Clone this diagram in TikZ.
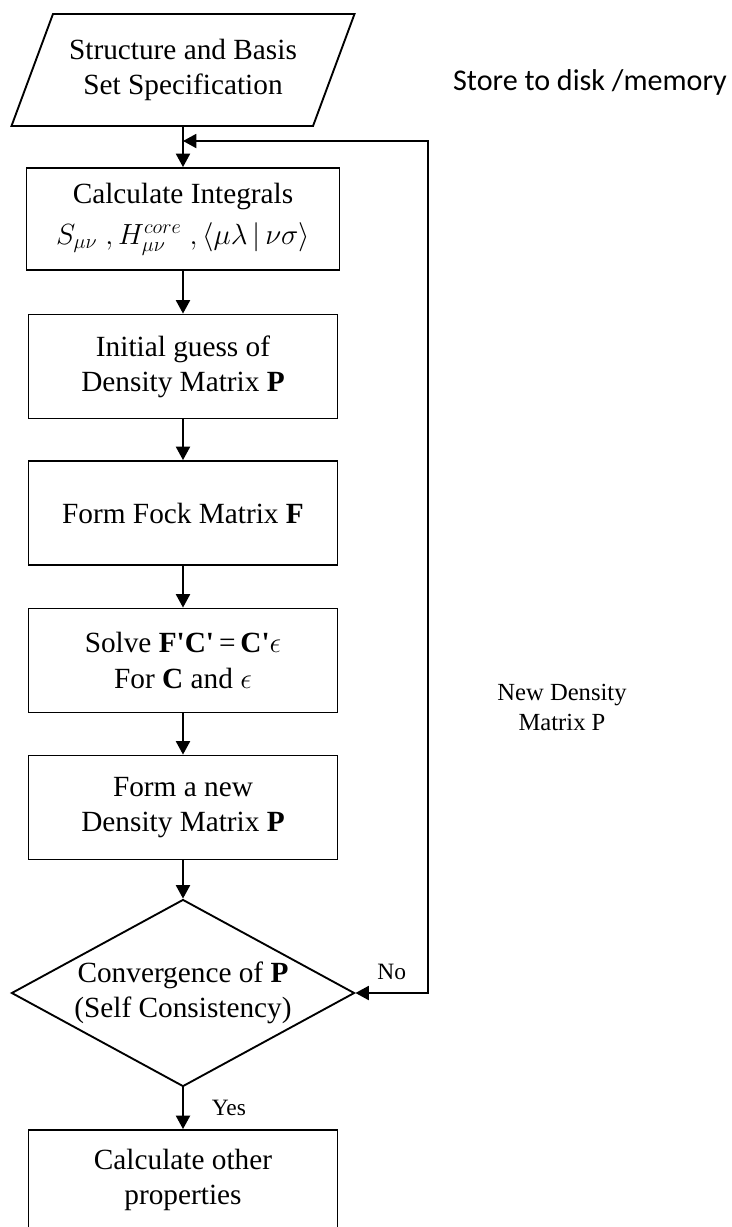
\documentclass[tikz,border=0pt]{standalone}
\usepackage{fontspec}
\setmainfont{Liberation Serif}
\newfontfamily\notefont{Carlito}
\usetikzlibrary{arrows.meta,shapes.geometric}

\begin{document}
\begin{tikzpicture}[
 x=0.03cm,y=-0.03cm,font=\fontsize{25}{30}\selectfont,
 box/.style={draw,line width=1.6pt,align=center,minimum width=9.27cm,
             minimum height=3.12cm,inner sep=2pt},
 io/.style={box,trapezium,trapezium left angle=58,trapezium right angle=122,
            trapezium stretches body,minimum width=10.29cm,minimum height=3.36cm},
 test/.style={box,diamond,aspect=1.83,minimum width=10.29cm,
              minimum height=5.61cm,inner sep=0pt},
 flow/.style={-{Triangle[length=0.4cm,width=0.42cm]},line width=1.6pt},
 back/.style={{Triangle[length=0.4cm,width=0.42cm]}-{Triangle[length=0.4cm,width=0.42cm]},
              line width=1.6pt},
 note/.style={align=center,inner sep=1pt}]
\useasboundingbox (0,0) rectangle (732,1227);
\clip (0,0) rectangle (732,1227);
\node[io] (spec) at (183,70) {Structure and Basis\\Set Specification};
\node[box,minimum width=9.39cm,minimum height=3.06cm] (ints) at (183,219)
 {Calculate Integrals\\[5pt]$S_{\mu\nu}\;,H^{core}_{\mu\nu}\;,\langle\mu\lambda\,|\,\nu\sigma\rangle$};
\node[box] (guess) at (183,366.5) {Initial guess of\\Density Matrix \textbf{P}};
\node[box] (fock) at (183,513) {Form Fock Matrix \textbf{F}};
\node[box] (solve) at (183,660.5)
 {Solve \textbf{F\textquotesingle C\textquotesingle}\,=\,\textbf{C\textquotesingle}$\epsilon$\\For \textbf{C} and $\epsilon$};
\node[box] (newp) at (183,807.5) {Form a new\\Density Matrix \textbf{P}};
\node[test] (conv) at (183,993) {Convergence of \textbf{P}\\(Self Consistency)};
\node[box,minimum height=3cm] (other) at (183,1180) {Calculate other\\properties};
\coordinate (join) at (183,141);
\coordinate (turn) at (428,141);
\draw[line width=1.6pt] (spec) -- (join);
\draw[flow] (join) -- (ints);
\draw[flow] (ints) -- (guess);
\draw[flow] (guess) -- (fock);
\draw[flow] (fock) -- (solve);
\draw[flow] (solve) -- (newp);
\draw[flow] (newp) -- (conv);
\draw[flow] (conv) -- node[note,right=0.8cm,font=\fontsize{20}{24}\selectfont] {Yes} (other);
\draw[back] (conv.east) -- node[note,above=0.35cm,font=\fontsize{20}{24}\selectfont] {No}
 (conv.east -| turn) -- (turn) -- (join);
\node[note,font=\notefont\fontsize{25.7}{30}\selectfont] (disk) at (590,82) {Store to disk /memory};
\node[note,font=\fontsize{21}{25.6}\selectfont] (newlabel) at (562,707) {New Density\\Matrix P};
\end{tikzpicture}
\end{document}
